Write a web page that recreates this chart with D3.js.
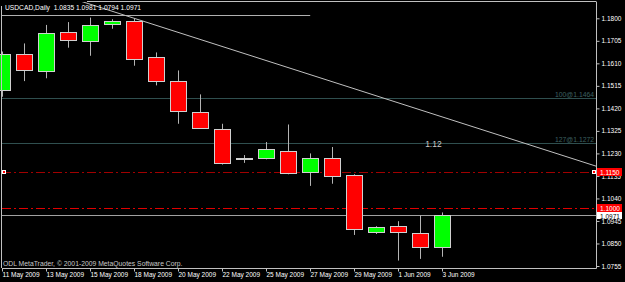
<!DOCTYPE html>
<html>
<head>
<meta charset="utf-8">
<script src="https://cdn.jsdelivr.net/npm/d3@7"></script>
<style>
  body { margin: 0; background: #000; }
  svg { display: block; font-family: "Liberation Sans", Arial, sans-serif; }
</style>
</head>
<body>
<div id="chart"></div>
<script>
// daily bars, Sunday bars included (broker feed)
const dates = ["11 May 2009", "12 May 2009", "13 May 2009", "14 May 2009", "15 May 2009", "17 May 2009",
  "18 May 2009", "19 May 2009", "20 May 2009", "21 May 2009", "22 May 2009", "24 May 2009",
  "25 May 2009", "26 May 2009", "27 May 2009", "28 May 2009", "29 May 2009", "31 May 2009",
  "1 Jun 2009", "2 Jun 2009", "3 Jun 2009"];
const openP  = [1.1497, 1.1648, 1.1577, 1.1741, 1.1703, 1.1775, 1.1787, 1.1635, 1.1535, 1.1403, 1.1335,
  1.1209, 1.1209, 1.1242, 1.1148, 1.1209, 1.1137, 1.0898, 1.0922, 1.0893, 1.0835];
const highP  = [1.1660, 1.1694, 1.1772, 1.1784, 1.1803, 1.1796, 1.1800, 1.1656, 1.1580, 1.1479, 1.1355,
  1.1223, 1.1278, 1.1352, 1.1230, 1.1257, 1.1142, 1.0923, 1.0944, 1.0969, 1.0981];
const lowP   = [1.1469, 1.1535, 1.1547, 1.1676, 1.1642, 1.1756, 1.1600, 1.1517, 1.1355, 1.1333, 1.1183,
  1.1190, 1.1205, 1.1142, 1.1093, 1.1102, 1.0886, 1.0890, 1.0778, 1.0785, 1.0794];
const closeP = [1.1648, 1.1580, 1.1738, 1.1707, 1.1772, 1.1787, 1.1628, 1.1534, 1.1407, 1.1335, 1.1190,
  1.1209, 1.1248, 1.1150, 1.1209, 1.1135, 1.0909, 1.0920, 1.0896, 1.0833, 1.0971];

const dateTickIdx = [0, 2, 4, 6, 8, 10, 12, 14, 16, 18, 20];
const priceTicks = [1.1800, 1.1705, 1.1610, 1.1515, 1.1420, 1.1325, 1.1230, 1.1135, 1.1040, 1.0945, 1.0850, 1.0755];

// objects drawn on the chart
const fiboNames = ["100@1.1464", "127@1.1272"];
const fiboValues = [1.1464, 1.1272];
const alertValues = [1.1150, 1.1000];
const bidValue = 1.0971;
const trendIdx = [6, 27];
const trendPrice = [1.1800, 1.1176];
const topLinePrice = 1.1812;
const topLineEnd = 14;
const noteText = "1.12";
const notePos = [19.6, 1.1255];

const W = 625, H = 282;
const pLeft = 2, pRight = 596, pTop = 2, pBottom = 268;

const svg = d3.select("#chart").append("svg")
  .attr("width", W)
  .attr("height", H);

svg.append("rect").attr("width", W).attr("height", H).attr("fill", "#000");

const x = d3.scaleLinear().domain([0, 20]).range([2.2, 442.2]);
const y = d3.scaleLinear().domain([1.0755, 1.1800]).range([266, 18.3]);

svg.append("clipPath").attr("id", "plot")
  .append("rect").attr("x", pLeft).attr("y", pTop).attr("width", pRight - pLeft).attr("height", pBottom - pTop);

const px = v => Math.round(v) + 0.5;

// fibo levels
fiboValues.forEach((v, i) => {
  svg.append("line")
    .attr("x1", pLeft).attr("x2", pRight)
    .attr("y1", px(y(v))).attr("y2", px(y(v)))
    .attr("stroke", "#2f4f4f");
  svg.append("text")
    .attr("x", pRight - 2).attr("y", px(y(v)) - 2)
    .attr("text-anchor", "end")
    .attr("font-size", 6.8)
    .attr("fill", "#3d6060")
    .text(fiboNames[i]);
});

// alert lines
alertValues.forEach((v, i) => {
  svg.append("line")
    .attr("x1", pLeft).attr("x2", pRight)
    .attr("y1", px(y(v))).attr("y2", px(y(v)))
    .attr("stroke", i == 0 ? "#a00000" : "#e00000")
    .attr("stroke-dasharray", "9,3,2,3");
});
// little handles on first alert line
[pLeft + 2, pRight - 2].forEach(hx => {
  svg.append("rect")
    .attr("x", hx - 1.5).attr("y", Math.round(y(alertValues[0])) - 1.5)
    .attr("width", 3).attr("height", 3)
    .attr("fill", "#ff0000").attr("stroke", "#fff");
});

// bid line
svg.append("line")
  .attr("x1", pLeft).attr("x2", pRight)
  .attr("y1", px(y(bidValue))).attr("y2", px(y(bidValue)))
  .attr("stroke", "#a0a0a0");

// horizontal line at top
svg.append("line")
  .attr("x1", pLeft).attr("x2", x(topLineEnd))
  .attr("y1", px(y(topLinePrice))).attr("y2", px(y(topLinePrice)))
  .attr("stroke", "#b0b0b0");

// trendline, extended and clipped to plot
const slope = (trendPrice[1] - trendPrice[0]) / (trendIdx[1] - trendIdx[0]);
const tA = -10, tB = 30;
svg.append("line")
  .attr("clip-path", "url(#plot)")
  .attr("x1", x(tA)).attr("y1", y(trendPrice[0] + slope * (tA - trendIdx[0])))
  .attr("x2", x(tB)).attr("y2", y(trendPrice[0] + slope * (tB - trendIdx[0])))
  .attr("stroke", "#c0c0c0");

svg.append("text")
  .attr("x", x(notePos[0])).attr("y", y(notePos[1]))
  .attr("text-anchor", "middle")
  .attr("font-size", 8.5)
  .attr("fill", "#c8c8c8")
  .text(noteText);

// candles
const idx = d3.range(dates.length);
svg.selectAll(".wick")
  .data(idx)
  .enter().append("line")
  .attr("class", "wick")
  .attr("x1", i => Math.round(x(i) - 8) + 8.5)
  .attr("x2", i => Math.round(x(i) - 8) + 8.5)
  .attr("y1", i => y(highP[i]))
  .attr("y2", i => y(lowP[i]))
  .attr("stroke", "#b4b4b4");

svg.selectAll(".body")
  .data(idx)
  .enter().append("rect")
  .attr("class", "body")
  .attr("x", i => Math.round(x(i) - 8) + 0.5)
  .attr("width", 16)
  .attr("y", i => px(y(Math.max(openP[i], closeP[i]))))
  .attr("height", i => Math.max(1, Math.round(Math.abs(y(openP[i]) - y(closeP[i])))))
  .attr("fill", i => openP[i] == closeP[i] ? "#c0c0c0" : (closeP[i] > openP[i] ? "#00ff00" : "#ff0000"))
  .attr("stroke", "#d0d0d0");

// frame
svg.append("line").attr("x1", 87).attr("x2", pRight + 0.5).attr("y1", 1.5).attr("y2", 1.5).attr("stroke", "#c0c0c0");
svg.append("line").attr("x1", 1.5).attr("x2", 1.5).attr("y1", 6).attr("y2", pBottom).attr("stroke", "#c0c0c0");

// price axis
const yAxis = svg.append("g")
  .attr("transform", "translate(" + (pRight + 0.5) + ",0)")
  .call(d3.axisRight(y).tickValues(priceTicks).tickFormat(d3.format(".4f")).tickSize(3).tickPadding(2));
yAxis.select(".domain").attr("stroke", "#c0c0c0").attr("d", "M0," + pTop + "V" + (pBottom + 0.5));
yAxis.selectAll(".tick line").attr("stroke", "#c0c0c0");
yAxis.selectAll(".tick text").attr("fill", "#fff").attr("font-size", 6.5).attr("font-family", "Liberation Sans, Arial, sans-serif");

// date axis
const xAxis = svg.append("g")
  .attr("transform", "translate(0," + (pBottom + 0.5) + ")")
  .call(d3.axisBottom(x).tickValues(dateTickIdx).tickFormat(i => dates[i]).tickSize(3));
xAxis.select(".domain").attr("stroke", "#c0c0c0").attr("d", "M" + pLeft + ",0H" + (pRight + 0.5));
xAxis.selectAll(".tick").attr("transform", i => "translate(" + (Math.round(x(i) - 8) + 8.5) + ",0)");
xAxis.selectAll(".tick line").attr("stroke", "#c0c0c0");
xAxis.selectAll(".tick text")
  .attr("fill", "#fff").attr("font-size", 6.5).attr("font-family", "Liberation Sans, Arial, sans-serif")
  .attr("text-anchor", "start").attr("x", 0).attr("y", 8.5).attr("dy", null);

// price boxes on the axis
const boxes = [
  { v: alertValues[0], fill: "#ff0000", color: "#fff" },
  { v: alertValues[1], fill: "#ff0000", color: "#fff" },
  { v: bidValue, fill: "#ffffff", color: "#000" }
];
boxes.forEach(b => {
  const by = Math.round(y(b.v));
  const yy = b.v == bidValue ? by - 3 : by - 4;
  svg.append("rect")
    .attr("x", 597).attr("y", yy)
    .attr("width", 25).attr("height", b.v == bidValue ? 7 : 8)
    .attr("fill", b.fill);
  svg.append("text")
    .attr("x", 600).attr("y", yy + 6.5)
    .attr("font-size", 6.5)
    .attr("fill", b.color)
    .text(d3.format(".4f")(b.v));
});

// texts
svg.append("text")
  .attr("x", 5).attr("y", 10)
  .attr("font-size", 6.7)
  .attr("fill", "#fff")
  .attr("xml:space", "preserve")
  .text("USDCAD,Daily  " + [openP[20], highP[20], lowP[20], closeP[20]].map(d3.format(".4f")).join(" "));

svg.append("text")
  .attr("x", 3).attr("y", 266)
  .attr("font-size", 6.8)
  .attr("fill", "#c8c8c8")
  .text("ODL MetaTrader, \u00a9 2001-2009 MetaQuotes Software Corp.");
</script>
</body>
</html>
